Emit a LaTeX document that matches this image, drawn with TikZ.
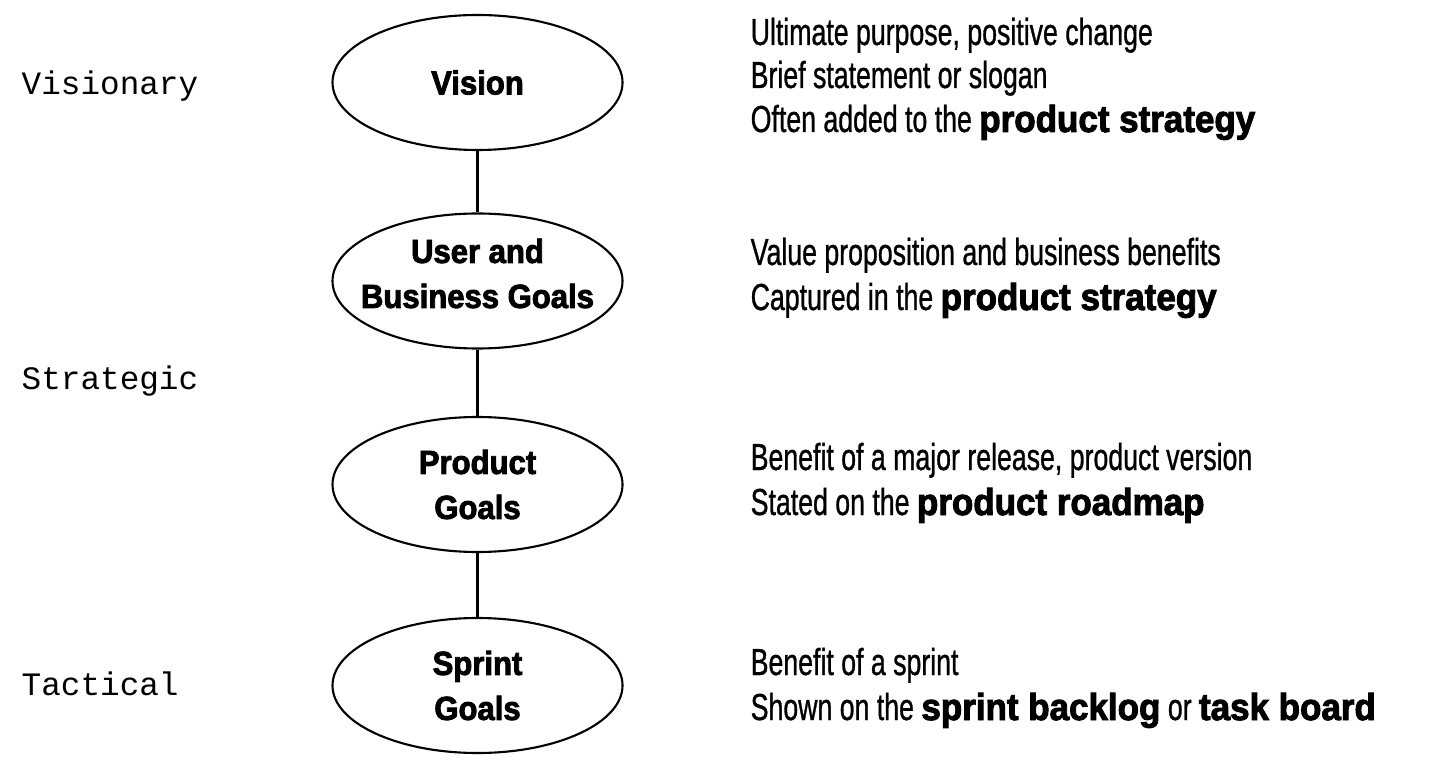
\documentclass[tikz,border=0pt]{standalone}
\usepackage{fontspec}
\newfontfamily\descfont{Liberation Sans}[FakeStretch=0.71, FakeBold=0.8]
\newfontfamily\heavyfont{Liberation Sans}[FakeStretch=0.93, FakeBold=2.5]
\newfontfamily\levelfont{Liberation Mono}
\newcommand{\keyterm}[1]{{\heavyfont\bfseries #1}}
\usetikzlibrary{shapes.geometric}

\begin{document}
\begin{tikzpicture}[
  goal/.style={ellipse, draw, line width=0.6pt, minimum width=2.9cm, minimum height=1.35cm, inner sep=0pt},
  goaltext/.style={font=\heavyfont\bfseries\fontsize{9.5}{12.8}\selectfont, align=center, inner sep=0pt},
  level/.style={font=\levelfont\fontsize{9.3}{11}\selectfont, anchor=base west, inner sep=0pt},
  desc/.style={font=\descfont\fontsize{10.7}{12.5}\selectfont, anchor=base west, inner sep=0pt}
]
\useasboundingbox (0,0) rectangle (14.33,-7.60);
% Levels
\node[level] (visionary) at (0.21,-0.95) {Visionary};
\node[level] (strategic) at (0.21,-3.90) {Strategic};
\node[level] (tactical) at (0.21,-6.95) {Tactical};
% Goal hierarchy
\node[goal, label={[goaltext]center:Vision}] (vision) at (4.775,-0.825) {};
\node[goal, label={[goaltext, yshift=0.75mm]center:User and\\Business Goals}] (user) at (4.775,-2.81) {};
\node[goal, label={[goaltext]center:Product\\Goals}] (product) at (4.775,-4.845) {};
\node[goal, label={[goaltext]center:Sprint\\Goals}] (sprint) at (4.775,-6.855) {};
\draw[line width=0.6pt] (vision) -- (user);
\draw[line width=0.6pt] (user) -- (product);
\draw[line width=0.6pt] (product) -- (sprint);
% Descriptions
\node[desc] (vision1) at (7.50,-0.45) {Ultimate purpose, positive change};
\node[desc] (vision2) at (7.50,-0.88) {Brief statement or slogan};
\node[desc] (vision3) at (7.50,-1.32) {Often added to the \keyterm{product strategy}};
\node[desc] (user1) at (7.50,-2.65) {Value proposition and business benefits};
\node[desc] (user2) at (7.50,-3.10) {Captured in the \keyterm{product strategy}};
\node[desc] (product1) at (7.50,-4.70) {Benefit of a major release, product version};
\node[desc] (product2) at (7.50,-5.15) {Stated on the \keyterm{product roadmap}};
\node[desc] (sprint1) at (7.50,-6.75) {Benefit of a sprint};
\node[desc] (sprint2) at (7.50,-7.20) {Shown on the \keyterm{sprint backlog} or \keyterm{task board}};
\end{tikzpicture}
\end{document}
